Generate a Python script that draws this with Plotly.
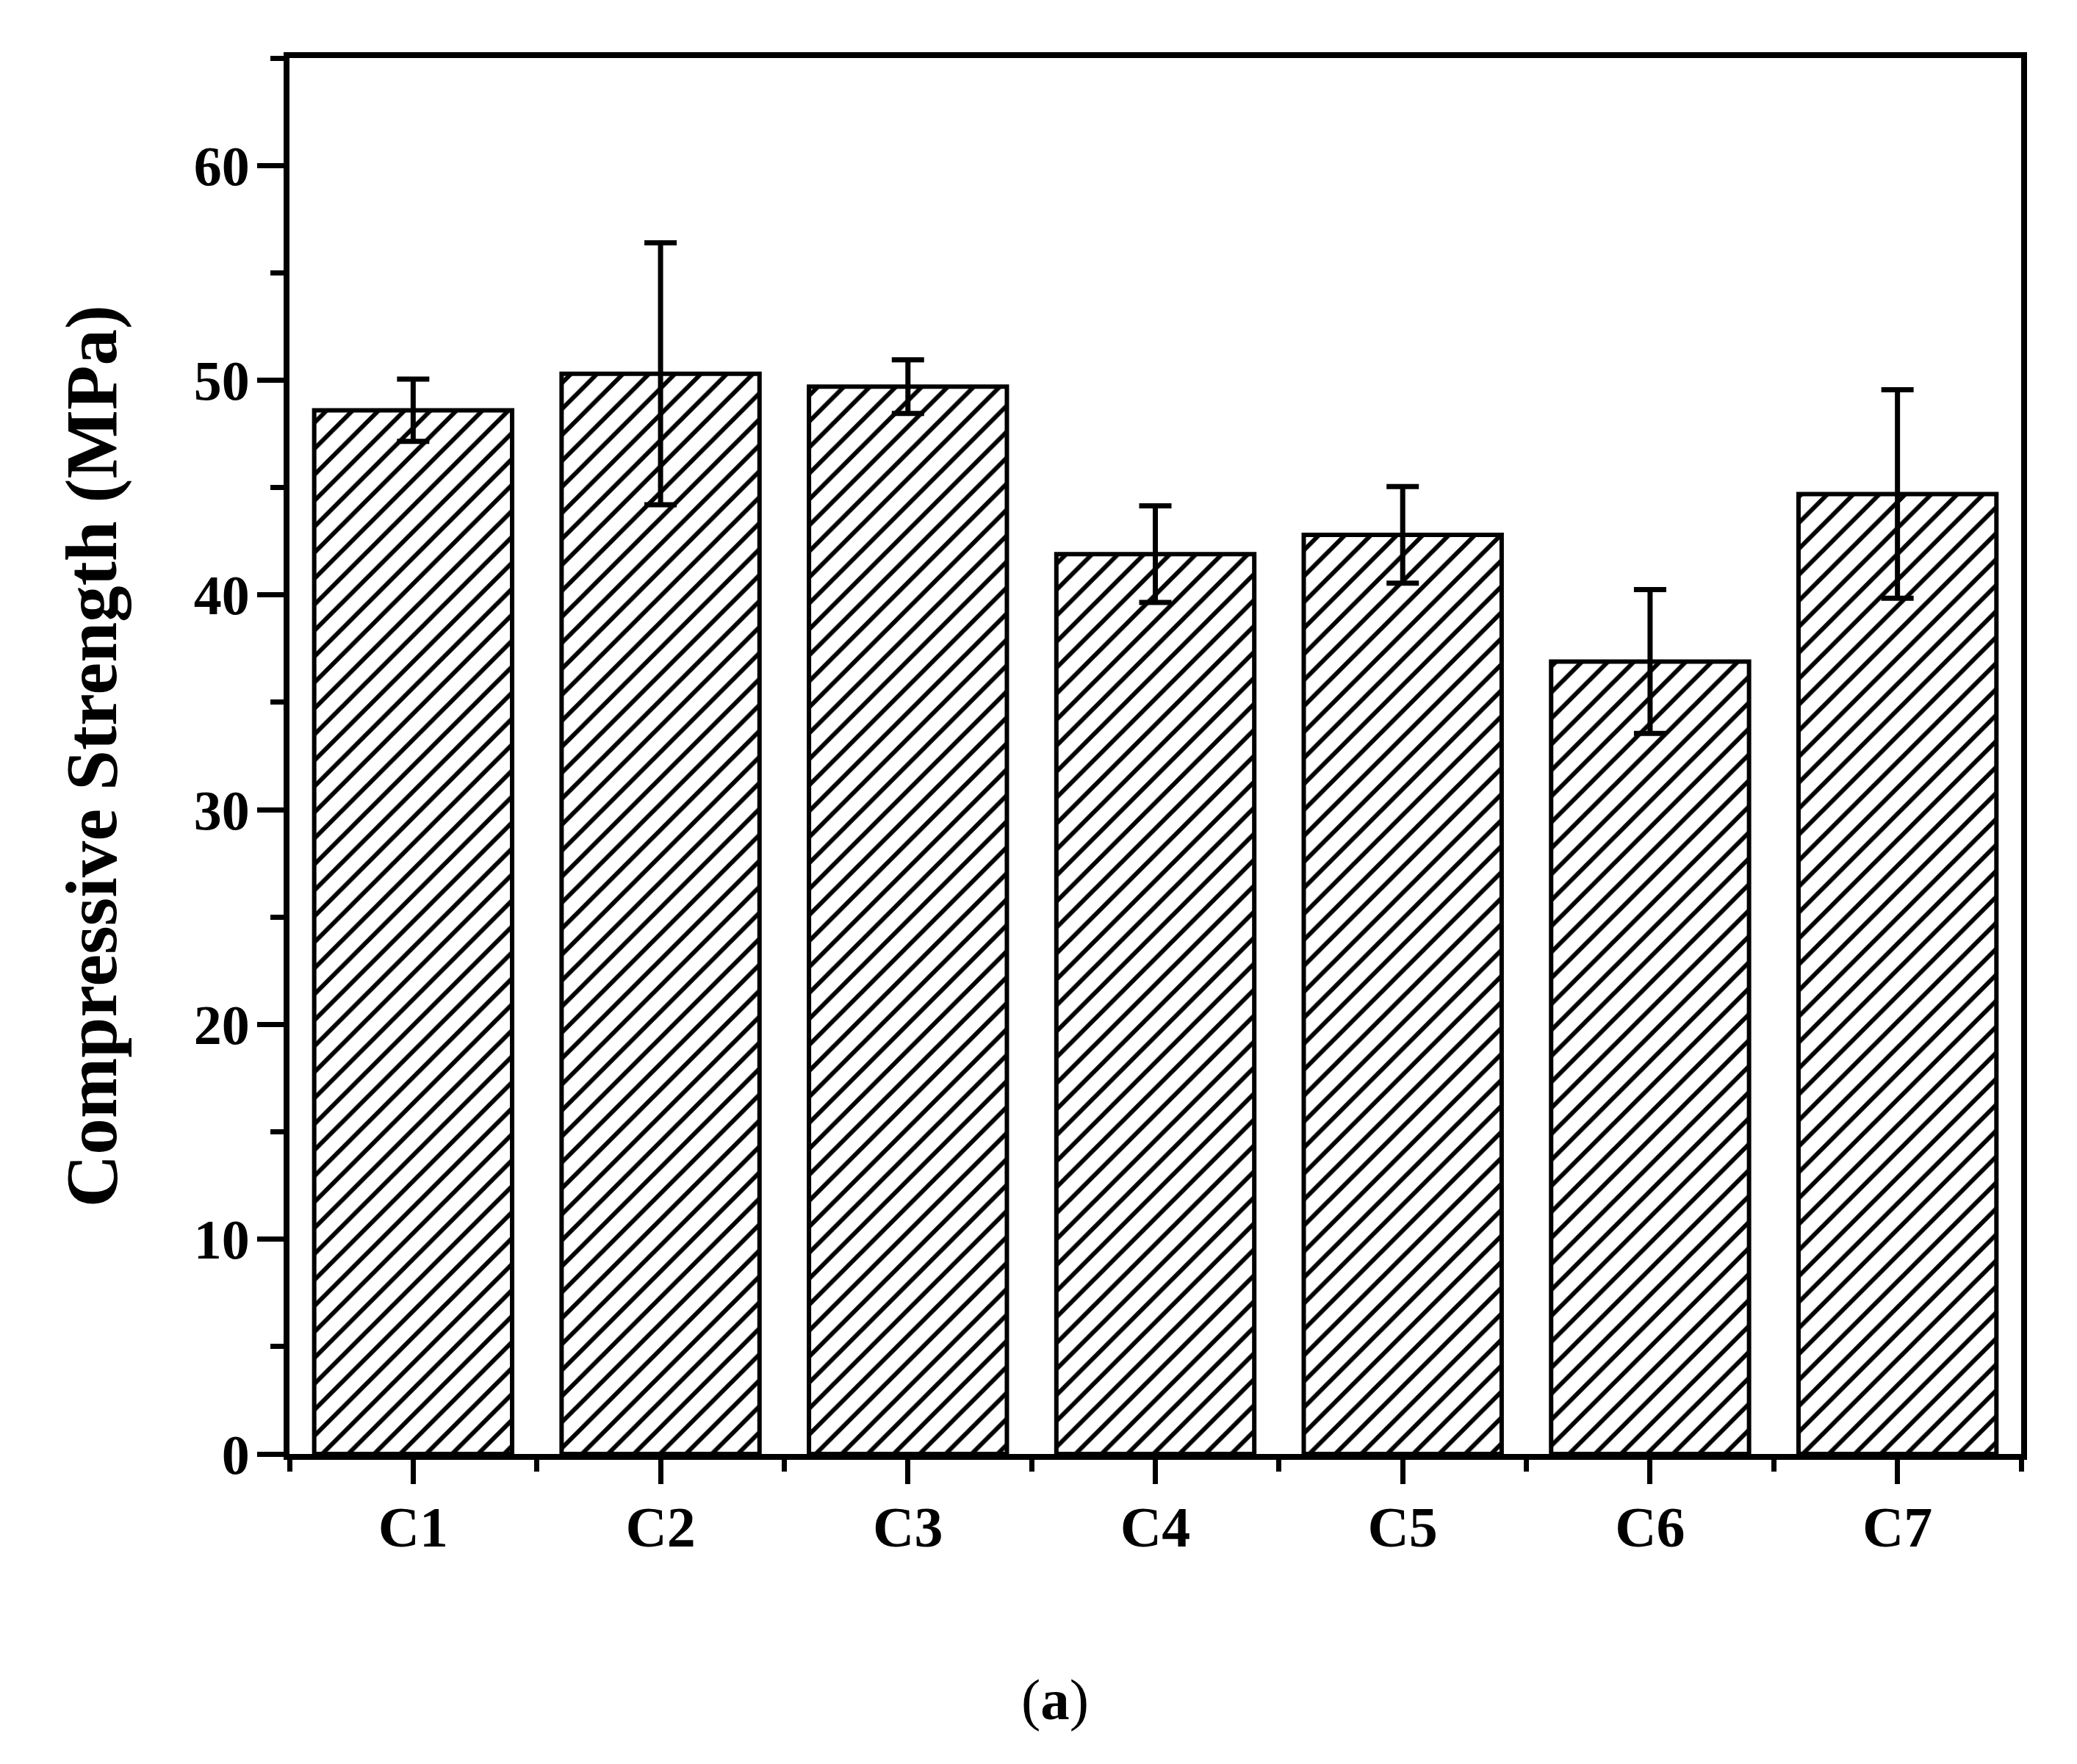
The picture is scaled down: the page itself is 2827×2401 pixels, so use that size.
import numpy as np
import plotly.graph_objects as go

# compressive strength per mix (MPa)
categories = ["C1", "C2", "C3", "C4", "C5", "C6", "C7"]
strength = [48.6, 50.3, 49.7, 41.9, 42.8, 36.9, 44.7]
strength_err = [1.45, 6.1, 1.25, 2.25, 2.25, 3.35, 4.85]

y_major_ticks = [0, 10, 20, 30, 40, 50, 60]

FONT = "Liberation Serif"
xpos = np.arange(len(categories))

fig = go.Figure()
fig.add_trace(go.Bar(
    x=xpos,
    y=strength,
    width=0.8,
    marker=dict(
        color="white",
        line=dict(color="black", width=6),
        pattern=dict(shape="/", size=25, solidity=0.24,
                     fgcolor="black", bgcolor="white", fillmode="replace"),
    ),
    error_y=dict(type="data", array=strength_err, visible=True,
                 color="black", thickness=7, width=22),
    showlegend=False,
))

fig.update_layout(
    width=2827,
    height=2401,
    margin=dict(l=386, r=84, t=71, b=430),
    plot_bgcolor="white",
    paper_bgcolor="white",
    bargap=0.2,
)

fig.update_xaxes(
    range=[-0.5, len(categories) - 0.5],
    tickmode="array",
    tickvals=xpos,
    ticktext=categories,
    ticks="outside",
    ticklen=33,
    tickwidth=7,
    tickcolor="black",
    ticklabelstandoff=-9,
    tickfont=dict(family=FONT, size=78, color="black", weight="bold"),
    minor=dict(ticks="outside", ticklen=16, tickwidth=7, tickcolor="black",
               tickmode="array", tickvals=list(xpos - 0.5) + [len(categories) - 0.5]),
    showline=True,
    linewidth=8,
    linecolor="black",
    mirror=True,
    showgrid=False,
    zeroline=False,
)

fig.update_yaxes(
    range=[0, 65],
    tickmode="array",
    tickvals=y_major_ticks,
    ticks="outside",
    ticklen=36,
    tickwidth=7,
    tickcolor="black",
    ticklabelstandoff=-5,
    tickfont=dict(family=FONT, size=76, color="black", weight="bold"),
    minor=dict(ticks="outside", ticklen=18, tickwidth=7, tickcolor="black",
               tick0=5, dtick=10),
    showline=True,
    linewidth=8,
    linecolor="black",
    mirror=True,
    showgrid=False,
    zeroline=False,
)

# y axis title
fig.add_annotation(
    text="Compressive Strength (MPa)",
    xref="paper", yref="paper",
    x=-0.114, y=0.5,
    xanchor="center", yanchor="middle",
    textangle=-90,
    showarrow=False,
    font=dict(family=FONT, size=99, color="black", weight="bold"),
)

# panel label
fig.add_annotation(
    text="(<b>a</b>)",
    xref="paper", yref="paper",
    x=0.442, y=-0.176,
    xanchor="center", yanchor="middle",
    showarrow=False,
    font=dict(family=FONT, size=79, color="black"),
)

fig.write_html("out.html")
